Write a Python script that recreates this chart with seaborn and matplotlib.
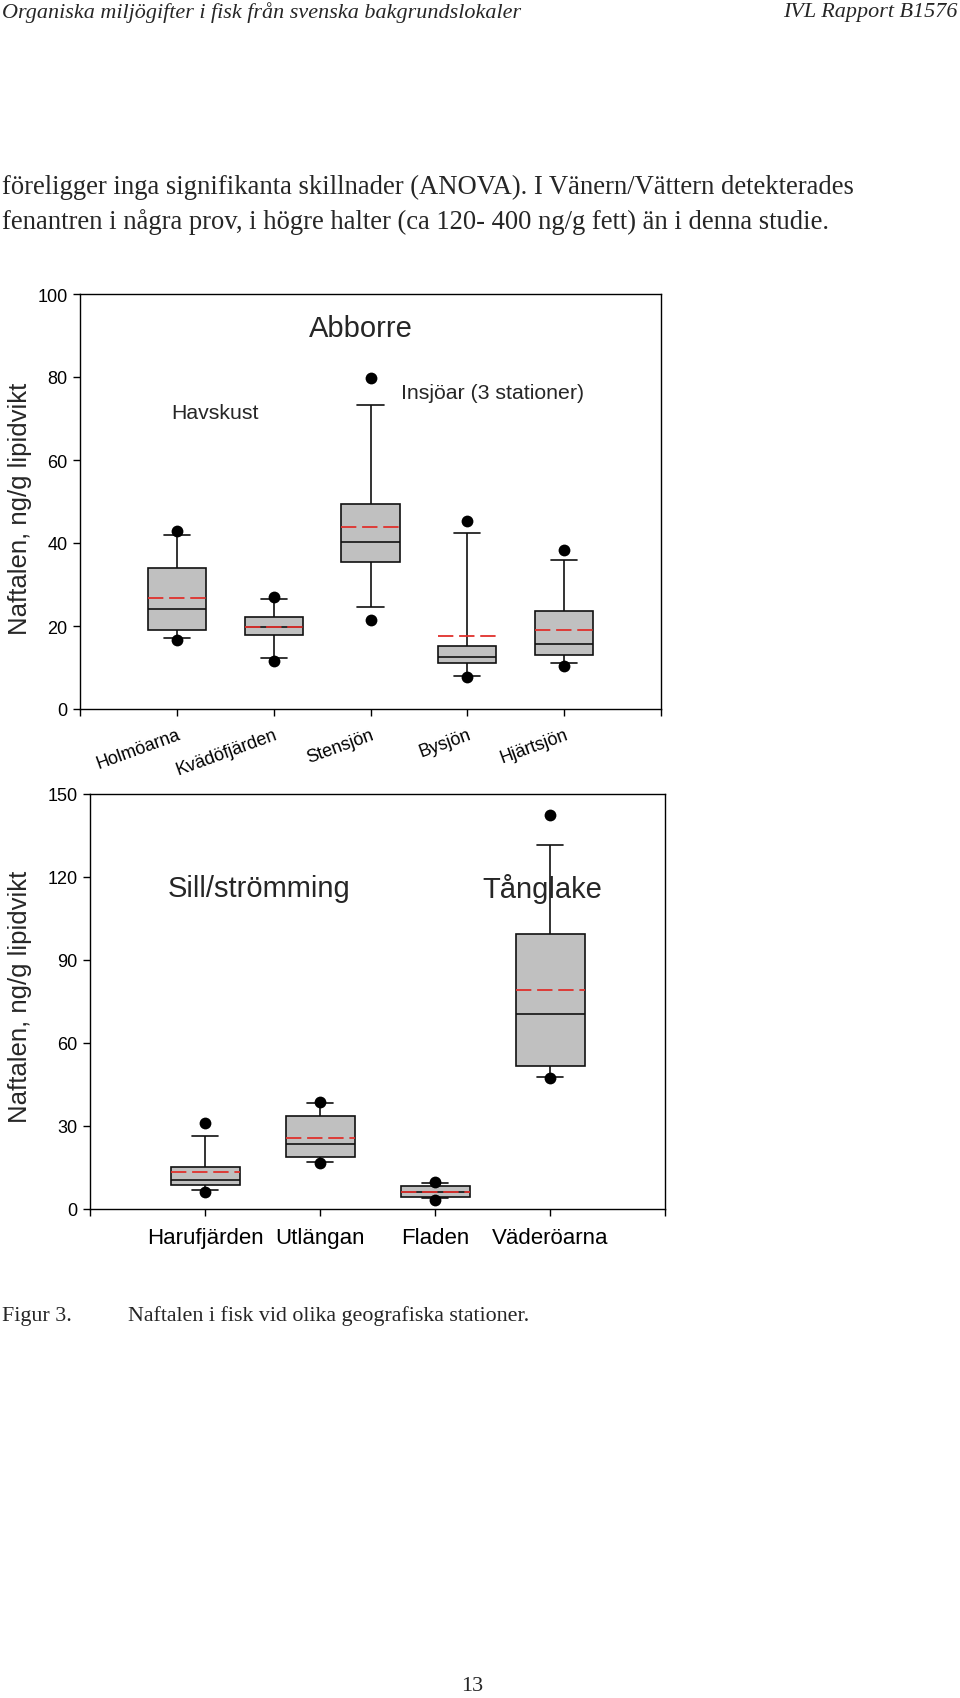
import numpy as np
import pandas as pd
import matplotlib
matplotlib.use("Agg")
import matplotlib.pyplot as plt
import seaborn as sns

# ---------------- data ----------------
top_sites = ["Holmöarna", "Kvädöfjärden", "Stensjön", "Bysjön", "Hjärtsjön"]
top_whisk_low = [17.0, 12.2, 24.5, 8.0, 11.0]
top_q1 = [19.1, 17.8, 35.4, 11.1, 12.9]
top_median = [24.1, 19.7, 40.2, 12.6, 15.7]
top_q3 = [34.0, 22.2, 49.3, 15.1, 23.6]
top_whisk_high = [41.9, 26.4, 73.3, 42.3, 35.8]
top_mean = [26.7, 19.7, 43.9, 17.5, 19.0]
top_out_low = [16.6, 11.6, 21.5, 7.6, 10.4]
top_out_high = [43.0, 26.9, 79.8, 45.3, 38.3]
top_yticks = [0, 20, 40, 60, 80, 100]

bot_sites = ["Harufjärden", "Utlängan", "Fladen", "Väderöarna"]
bot_whisk_low = [6.9, 16.9, 3.9, 47.8]
bot_q1 = [8.7, 18.7, 4.2, 51.8]
bot_median = [10.6, 23.5, 6.3, 70.4]
bot_q3 = [15.3, 33.7, 8.4, 99.4]
bot_whisk_high = [26.5, 38.2, 9.3, 131.6]
bot_mean = [13.2, 25.7, 6.3, 79.2]
bot_out_low = [6.0, 16.5, 3.4, 47.2]
bot_out_high = [31.2, 38.8, 9.9, 142.4]
bot_yticks = [0, 30, 60, 90, 120, 150]

ylabel = "Naftalen, ng/g lipidvikt"

# ---------------- style ----------------
sns.set_style("ticks")
plt.rcParams["font.family"] = ["Liberation Sans", "DejaVu Sans"]
plt.rcParams["axes.linewidth"] = 1.0

W, H = 960, 1699
fig = plt.figure(figsize=(W / 100, H / 100), dpi=100)
fig.patch.set_facecolor("white")

BOX_GREY = "#c0c0c0"
RED = "#e0302c"


def px_axes(l, t, r, b):
    return fig.add_axes([l / W, 1 - b / H, (r - l) / W, (b - t) / H])


def stats_frame(sites, lo, q1, med, q3, hi):
    rows = []
    for s, a, b, c, d, e in zip(sites, lo, q1, med, q3, hi):
        for v in (a, b, c, d, e):
            rows.append({"site": s, "value": v})
    return pd.DataFrame(rows)


def draw_panel(ax, sites, lo, q1, med, q3, hi, mean, out_lo, out_hi,
               yticks, capw):
    df = stats_frame(sites, lo, q1, med, q3, hi)
    sns.boxplot(data=df, x="site", y="value", order=sites, whis=np.inf,
                width=0.6, color=BOX_GREY, saturation=1, linecolor="#111111",
                linewidth=1.2, showfliers=False, capwidths=capw, ax=ax,
                zorder=2)
    outs = pd.DataFrame({"site": list(sites) * 2,
                         "value": list(out_lo) + list(out_hi)})
    sns.stripplot(data=outs, x="site", y="value", order=sites, jitter=False,
                  color="black", size=8.5, linewidth=0, ax=ax, zorder=4)
    xs = np.arange(len(sites))
    ax.hlines(mean, xs - 0.3, xs + 0.3, colors=RED, linestyles=(0, (8.5, 3.2)),
              linewidth=1.3, zorder=5)
    n = len(sites)
    ax.set_xlim(-1, n)
    ax.set_ylim(yticks[0], yticks[-1])
    ax.set_yticks(yticks)
    ax.set_xticks(range(-1, n + 1))
    ax.set_xlabel("")
    ax.set_ylabel("")
    for sp in ax.spines.values():
        sp.set_visible(True)
        sp.set_color("black")
        sp.set_linewidth(1.0)
    ax.tick_params(axis="both", direction="out", length=5, width=1.0,
                   colors="black", top=False, right=False)
    ax.tick_params(axis="y", labelsize=13, pad=4)


# ---------------- top panel (Abborre) ----------------
ax1 = px_axes(80, 295, 661, 710)
draw_panel(ax1, top_sites, top_whisk_low, top_q1, top_median, top_q3,
           top_whisk_high, top_mean, top_out_low, top_out_high, top_yticks, 0.27)
ax1.set_xticklabels([""] + top_sites + [""], rotation=20, ha="right",
                    va="top", rotation_mode="anchor", fontsize=13)
ax1.tick_params(axis="x", pad=7)
ax1.text(1.9, 91.9, "Abborre", ha="center", va="center", fontsize=21)
ax1.text(0.39, 71.4, "Havskust", ha="center", va="center", fontsize=15.3)
ax1.text(3.26, 76.3, "Insjöar (3 stationer)", ha="center", va="center",
         fontsize=15.3)
fig.text(20 / W, 1 - 509 / H, ylabel, rotation=90, ha="center", va="center",
         fontsize=18.5)

# ---------------- bottom panel (Sill/strömming, Tånglake) ----------------
ax2 = px_axes(90, 795, 665, 1210)
draw_panel(ax2, bot_sites, bot_whisk_low, bot_q1, bot_median, bot_q3,
           bot_whisk_high, bot_mean, bot_out_low, bot_out_high, bot_yticks, 0.23)
ax2.set_xticklabels([""] + bot_sites + [""], fontsize=16)
ax2.tick_params(axis="x", pad=8)
ax2.text(0.47, 116, "Sill/strömming", ha="center", va="center", fontsize=21)
ax2.text(2.93, 116, "Tånglake", ha="center", va="center", fontsize=21)
fig.text(20 / W, 1 - 997 / H, ylabel, rotation=90, ha="center", va="center",
         fontsize=18.5)

# ---------------- page text ----------------
serif = ["Liberation Serif", "DejaVu Serif"]
fig.text(2 / W, 1 - 13 / H,
         "Organiska miljögifter i fisk från svenska bakgrundslokaler",
         ha="left", va="center", fontsize=15.9, style="italic", family=serif)
fig.text(958 / W, 1 - 13 / H, "IVL Rapport B1576", ha="right", va="center",
         fontsize=15.9, style="italic", family=serif)
fig.text(2 / W, 1 - 187 / H,
         "föreligger inga signifikanta skillnader (ANOVA). I Vänern/Vättern detekterades",
         ha="left", va="center", fontsize=19.2, family=serif)
fig.text(2 / W, 1 - 222 / H,
         "fenantren i några prov, i högre halter (ca 120- 400 ng/g fett) än i denna studie.",
         ha="left", va="center", fontsize=19.2, family=serif)
fig.text(2 / W, 1 - 1316 / H, "Figur 3.", ha="left", va="center",
         fontsize=15.8, family=serif)
fig.text(128 / W, 1 - 1316 / H,
         "Naftalen i fisk vid olika geografiska stationer.",
         ha="left", va="center", fontsize=15.8, family=serif)
fig.text(472 / W, 1 - 1687 / H, "13", ha="center", va="center",
         fontsize=16, family=serif)

fig.savefig("out.png", dpi=100, facecolor="white")
